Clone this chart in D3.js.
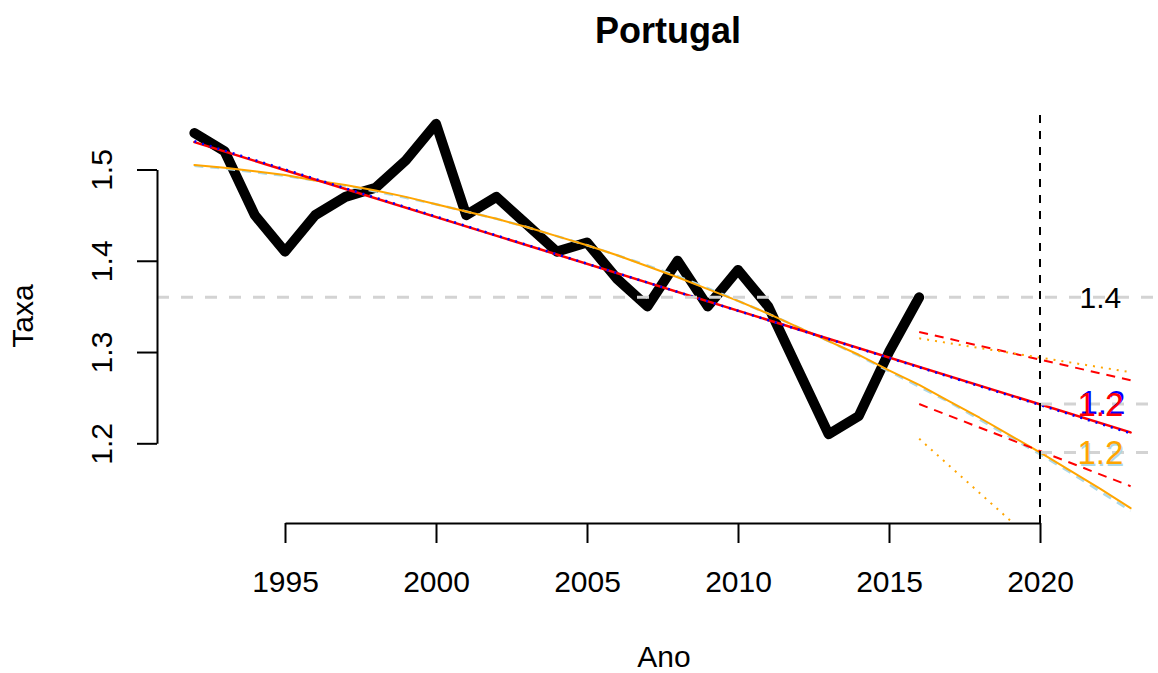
<!DOCTYPE html>
<html>
<head>
<meta charset="utf-8">
<script src="https://cdn.jsdelivr.net/npm/d3@7"></script>
<style>
  body { margin: 0; background: #fff; }
  svg { display: block; font-family: "Liberation Sans", Arial, sans-serif; }
</style>
</head>
<body>
<svg id="chart" width="1158" height="673"></svg>
<script>
// observed series
const years = [1992, 1993, 1994, 1995, 1996, 1997, 1998, 1999, 2000, 2001, 2002, 2003, 2004,
  2005, 2006, 2007, 2008, 2009, 2010, 2011, 2012, 2013, 2014, 2015, 2016];
const taxa = [1.54, 1.52, 1.45, 1.41, 1.45, 1.47, 1.48, 1.51, 1.55, 1.45, 1.47, 1.44, 1.41,
  1.42, 1.38, 1.35, 1.40, 1.35, 1.39, 1.35, 1.28, 1.21, 1.23, 1.30, 1.36];

// fitted curves (1992 - 2023)
const fitYears = [1992, 1993, 1994, 1995, 1996, 1997, 1998, 1999, 2000, 2001, 2002, 2003, 2004,
  2005, 2006, 2007, 2008, 2009, 2010, 2011, 2012, 2013, 2014, 2015, 2016, 2017, 2018, 2019,
  2020, 2021, 2022, 2023];
const quadFit = [1.505, 1.502, 1.498, 1.494, 1.488, 1.483, 1.477, 1.470, 1.462, 1.454, 1.446,
  1.437, 1.427, 1.417, 1.406, 1.394, 1.382, 1.369, 1.356, 1.342, 1.327, 1.312, 1.297, 1.280,
  1.264, 1.246, 1.228, 1.209, 1.190, 1.170, 1.150, 1.129];
const altFit = [1.504, 1.501, 1.497, 1.493, 1.488, 1.482, 1.476, 1.469, 1.462, 1.454, 1.446,
  1.437, 1.427, 1.417, 1.406, 1.395, 1.383, 1.370, 1.356, 1.342, 1.327, 1.312, 1.296, 1.279,
  1.262, 1.245, 1.226, 1.207, 1.188, 1.168, 1.147, 1.126];
const linYears = [1992, 2023];
const linFit = [1.530, 1.212];
const linFitBlue = [1.531, 1.211];

// prediction bands
const predYears = [2016, 2023];
const linUpper = [1.322, 1.269];
const linLower = [1.243, 1.153];
const quadUpper = [1.315, 1.278];
const quadLower = [1.205, 0.997];

// reference levels: last value, linear at 2020, quadratic at 2020
const lastValue = 1.36;
const linAt2020 = 1.243;
const quadAt2020 = 1.190;
const cutYear = 2020;
const labelYear = 2022;

const xTicks = [1995, 2000, 2005, 2010, 2015, 2020];
const yTicks = [1.2, 1.3, 1.4, 1.5];

const svg = d3.select('#chart');
const plot = { left: 157, right: 1168, top: 115, bottom: 523 };

const x = d3.scaleLinear().domain([1995, 2020]).range([285, 1040]);
const y = d3.scaleLinear().domain([1.2, 1.5]).range([443.3, 169.5]);

svg.append('defs').append('clipPath').attr('id', 'clip')
  .append('rect')
  .attr('x', plot.left).attr('y', plot.top)
  .attr('width', plot.right - plot.left).attr('height', plot.bottom - plot.top);

const g = svg.append('g').attr('clip-path', 'url(#clip)');

function drawLine(xs, ys, color, width, dash) {
  const pts = xs.map((d, i) => [d, ys[i]]);
  const line = d3.line().x(d => x(d[0])).y(d => y(d[1]));
  g.append('path')
    .datum(pts)
    .attr('d', line)
    .attr('fill', 'none')
    .attr('stroke', color)
    .attr('stroke-width', width)
    .attr('stroke-dasharray', dash || null)
    .attr('stroke-linejoin', 'round')
    .attr('stroke-linecap', dash ? 'butt' : 'round');
}

// observed
drawLine(years, taxa, '#000', 10);

// fits
drawLine(fitYears, altFit, '#ADD8E6', 2.5, '9,7');
drawLine(fitYears, quadFit, '#FFA500', 2);
drawLine(linYears, linFit, '#FF0000', 2.5);
drawLine(linYears, linFitBlue, '#0000FF', 2.5, '2,6');

// bands
drawLine(predYears, linUpper, '#FF0000', 2, '9,7');
drawLine(predYears, linLower, '#FF0000', 2, '9,7');
drawLine(predYears, quadUpper, '#FFA500', 2, '2,6');
drawLine(predYears, quadLower, '#FFA500', 2, '2,6');

// reference lines
const grey = '#D3D3D3';
g.append('line')
  .attr('x1', plot.left).attr('x2', plot.right)
  .attr('y1', y(lastValue)).attr('y2', y(lastValue))
  .attr('stroke', grey).attr('stroke-width', 3).attr('stroke-dasharray', '12,12');
[linAt2020, quadAt2020].forEach(v => {
  g.append('line')
    .attr('x1', x(cutYear)).attr('x2', plot.right)
    .attr('y1', y(v)).attr('y2', y(v))
    .attr('stroke', grey).attr('stroke-width', 3).attr('stroke-dasharray', '12,12');
});

g.append('line')
  .attr('x1', x(cutYear)).attr('x2', x(cutYear))
  .attr('y1', plot.top).attr('y2', plot.bottom)
  .attr('stroke', '#000').attr('stroke-width', 2).attr('stroke-dasharray', '8,8');

// value labels
const fmt = d3.format('.1f');
function label(v, color, dx, dy, size) {
  svg.append('text')
    .attr('x', x(labelYear) + dx).attr('y', y(v) + dy)
    .attr('dy', '0.36em')
    .attr('text-anchor', 'middle')
    .attr('font-size', size)
    .attr('fill', color)
    .text(fmt(v));
}
label(lastValue, '#000', 0, 0, 30);
label(linAt2020, '#0000FF', 2, -2, 33);
label(linAt2020, '#FF0000', 0, 0, 33);
label(quadAt2020, '#ADD8E6', 1, 2, 33);
label(quadAt2020, '#FFA500', 0, 0, 33);

// axes
const xAxis = svg.append('g')
  .attr('transform', `translate(0,${plot.bottom})`)
  .call(d3.axisBottom(x).tickValues(xTicks).tickFormat(d3.format('d'))
    .tickSize(20).tickSizeOuter(0).tickPadding(28));
xAxis.selectAll('text').attr('font-size', 30).attr('fill', '#000')
  .attr('font-family', '"Liberation Sans", Arial, sans-serif');
xAxis.selectAll('line, path').attr('stroke', '#000').attr('stroke-width', 2);

const yAxis = svg.append('g')
  .attr('transform', `translate(${plot.left},0)`)
  .call(d3.axisLeft(y).tickValues(yTicks).tickFormat(d3.format('.1f'))
    .tickSize(20).tickSizeOuter(0));
yAxis.selectAll('text')
  .attr('x', null).attr('dy', null)
  .attr('text-anchor', 'middle')
  .attr('transform', 'translate(-45,0) rotate(-90)')
  .attr('font-size', 30).attr('fill', '#000')
  .attr('font-family', '"Liberation Sans", Arial, sans-serif');
yAxis.selectAll('line, path').attr('stroke', '#000').attr('stroke-width', 2);

// titles
svg.append('text')
  .attr('x', 668).attr('y', 43)
  .attr('text-anchor', 'middle')
  .attr('font-size', 36).attr('font-weight', 'bold')
  .text('Portugal');

svg.append('text')
  .attr('x', 664).attr('y', 667)
  .attr('text-anchor', 'middle')
  .attr('font-size', 30)
  .text('Ano');

svg.append('text')
  .attr('transform', 'translate(33,316) rotate(-90)')
  .attr('text-anchor', 'middle')
  .attr('font-size', 30)
  .text('Taxa');
</script>
</body>
</html>
